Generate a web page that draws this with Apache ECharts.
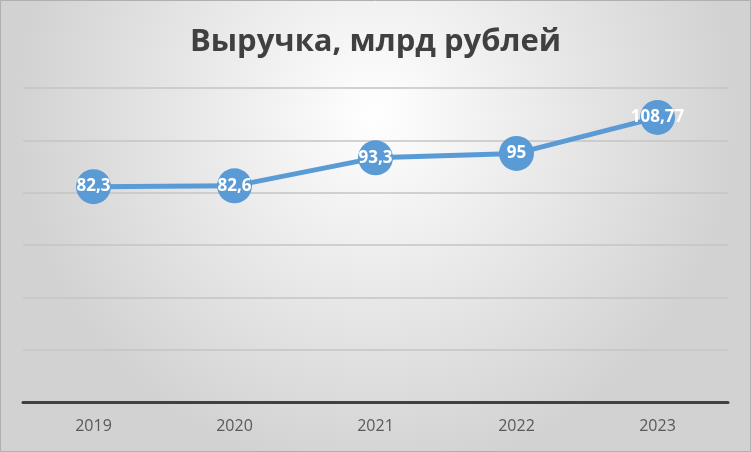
<!DOCTYPE html>
<html><head><meta charset="utf-8">
<script src="https://cdn.jsdelivr.net/npm/echarts@6/dist/echarts.min.js"></script>
<style>html,body{margin:0;padding:0;}#c{width:751px;height:452px;}</style>
</head><body><div id="c"></div>
<script>
const titleText = "Выручка, млрд рублей";
const categories = ["2019", "2020", "2021", "2022", "2023"];
const revenue = [82.3, 82.6, 93.3, 95, 108.77];
const yMin = 0, yMax = 120, yStep = 20;

const chart = echarts.init(document.getElementById('c'));
chart.setOption({
  backgroundColor: new echarts.graphic.RadialGradient(0.5, 0.25, 0.8, [
    {offset: 0, color: '#ffffff'},
    {offset: 1, color: '#d2d2d2'}
  ]),
  animation: false,
  title: {
    text: titleText, left: 'center', top: 22,
    textStyle: {fontFamily: 'Open Sans', fontWeight: 'bold', fontSize: 31, color: '#404040'}
  },
  graphic: [{type: 'rect', shape: {x: 0.5, y: 0.5, width: 750, height: 451},
    style: {fill: 'none', stroke: '#b0b0b0', lineWidth: 1}, silent: true}],
  grid: {left: 23, right: 23, top: 88, bottom: 50},
  xAxis: {
    type: 'category', data: categories, boundaryGap: true,
    axisLine: {lineStyle: {color: '#404040', width: 3}},
    axisTick: {show: false},
    axisLabel: {color: '#595959', fontSize: 16, margin: 16, fontFamily: 'Open Sans'}
  },
  yAxis: {
    type: 'value', min: yMin, max: yMax, interval: yStep,
    axisLabel: {show: false}, axisLine: {show: false}, axisTick: {show: false},
    splitLine: {lineStyle: {color: '#c4c4c4', width: 1.5}}
  },
  series: [{
    type: 'line', data: revenue,
    symbol: 'circle', symbolSize: 35,
    lineStyle: {color: '#5B9BD5', width: 5},
    itemStyle: {color: '#5B9BD5'},
    label: {show: true, position: 'inside', color: '#ffffff', fontWeight: 'bold', fontSize: 17,
      fontFamily: 'Open Sans',
      formatter: p => String(p.value).replace('.', ',')}
  }]
});
</script></body></html>
